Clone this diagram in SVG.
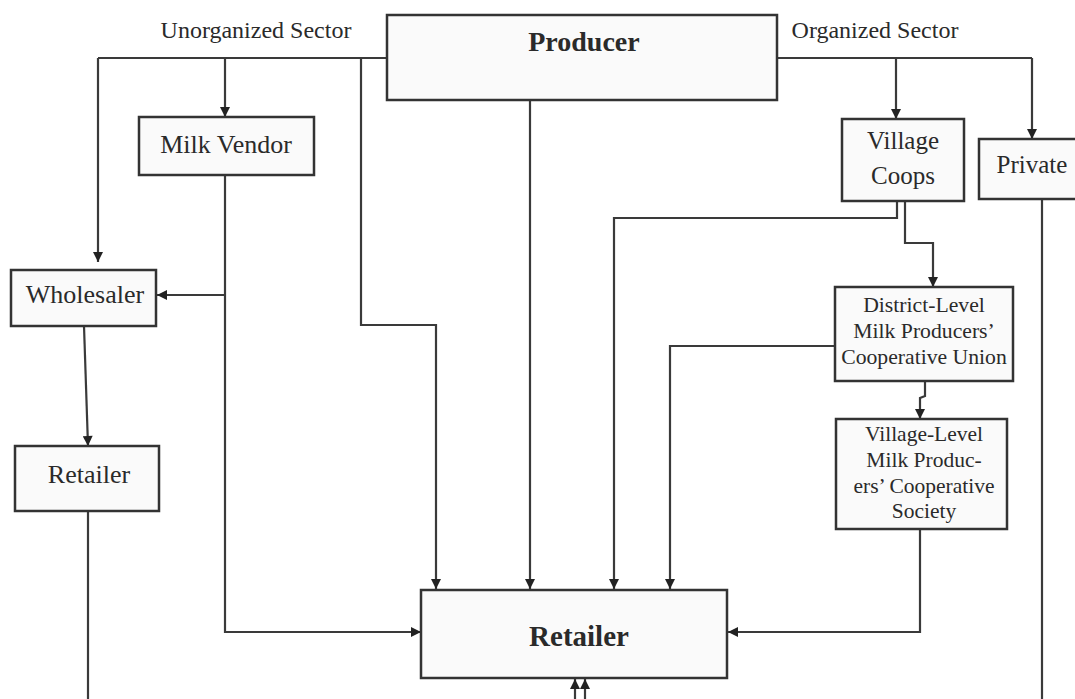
<svg xmlns="http://www.w3.org/2000/svg" width="1075" height="699" viewBox="0 0 1075 699">
<defs>
<marker id="ah" viewBox="0 0 10 10" refX="10" refY="5" markerWidth="11" markerHeight="10" markerUnits="userSpaceOnUse" orient="auto">
<path d="M0,0 L10,5 L0,10 z" fill="#222"/>
</marker>
<style>
.box{fill:#fafafa;stroke:#333;stroke-width:2.5}
.ln{fill:none;stroke:#3a3a3a;stroke-width:2.2}
.ar{fill:none;stroke:#3a3a3a;stroke-width:2.2;marker-end:url(#ah)}
.t{font-family:"Liberation Serif","Times New Roman",serif;fill:#2a2a2a;text-anchor:middle}
.b{font-weight:bold}
</style>
</defs>
<rect width="1075" height="699" fill="#ffffff"/>
<text class="t" x="256" y="38" font-size="24">Unorganized Sector</text>
<text class="t" x="875" y="38" font-size="24">Organized Sector</text>
<g id="connectors">
<polyline class="ln" points="98,58 387,58"/>
<polyline class="ln" points="777,58 1032,58"/>
<polyline class="ar" points="98,58 98,262"/>
<polyline class="ar" points="225,58 225,117"/>
<polyline class="ar" points="361,58 361,325 436,325 436,589"/>
<polyline class="ar" points="530,100 530,589"/>
<polyline class="ar" points="225,175 225,632 421,632"/>
<polyline class="ar" points="225,295 157,295"/>
<polyline class="ar" points="84,326 88,446"/>
<polyline class="ln" points="88,511 88,699"/>
<polyline class="ar" points="896,58 896,119"/>
<polyline class="ar" points="1032,58 1032,139"/>
<polyline class="ln" points="1042,199 1042,699"/>
<polyline class="ar" points="897,201 897,218 614,218 614,589"/>
<polyline class="ar" points="905,201 905,243 933,243 933,287"/>
<polyline class="ar" points="835,346 670,346 670,589"/>
<polyline class="ar" points="925,381 925,396 920,398 920,419"/>
<polyline class="ar" points="920,529 920,632 728,632"/>
<polyline class="ar" points="575,699 575,679"/>
<polyline class="ar" points="585,699 585,679"/>
</g>
<g id="producer">
<rect class="box" x="387" y="15" width="390" height="85"/>
<text class="t b" x="584" y="51" font-size="28">Producer</text>
</g>
<g id="milk-vendor">
<rect class="box" x="139" y="117" width="175" height="58"/>
<text class="t" x="226" y="153" font-size="26">Milk Vendor</text>
</g>
<g id="wholesaler">
<rect class="box" x="11" y="270" width="145" height="56"/>
<text class="t" x="85" y="303" font-size="26">Wholesaler</text>
</g>
<g id="retailer-small">
<rect class="box" x="15" y="446" width="144" height="65"/>
<text class="t" x="89" y="483" font-size="26">Retailer</text>
</g>
<g id="village-coops">
<rect class="box" x="842" y="119" width="122" height="82"/>
<text class="t" x="903" y="149" font-size="25">Village</text>
<text class="t" x="903" y="184" font-size="25">Coops</text>
</g>
<g id="private">
<rect class="box" x="979" y="139" width="100" height="60"/>
<text class="t" x="1032" y="173" font-size="25">Private</text>
</g>
<g id="district-union">
<rect class="box" x="835" y="287" width="178" height="94"/>
<text class="t" x="924" y="312" font-size="21.7">District-Level</text>
<text class="t" x="924" y="338" font-size="21.7">Milk Producers’</text>
<text class="t" x="924" y="364" font-size="21.7">Cooperative Union</text>
</g>
<g id="village-society">
<rect class="box" x="836" y="419" width="171" height="110"/>
<text class="t" x="924" y="441" font-size="21.5">Village-Level</text>
<text class="t" x="924" y="467" font-size="21.5">Milk Produc-</text>
<text class="t" x="924" y="493" font-size="21.5">ers’ Cooperative</text>
<text class="t" x="924" y="518" font-size="21.5">Society</text>
</g>
<g id="retailer-main">
<rect class="box" x="421" y="590" width="306" height="88"/>
<text class="t b" x="579" y="646" font-size="29">Retailer</text>
</g>
</svg>
